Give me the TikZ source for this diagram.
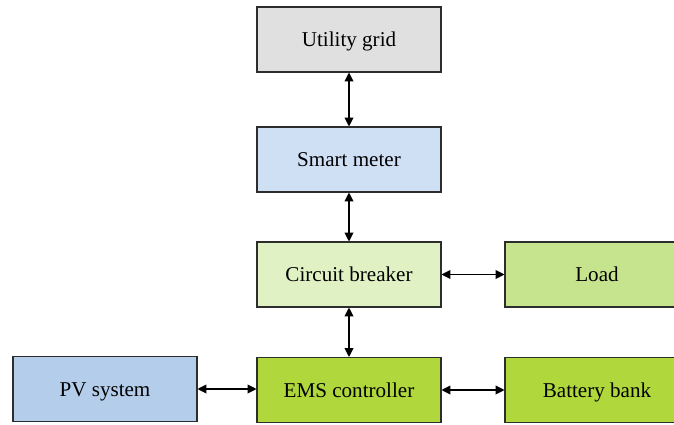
\documentclass[tikz,border=0pt]{standalone}
\usepackage{fontspec}
\setmainfont{Liberation Serif}
\usetikzlibrary{arrows.meta, positioning}
\definecolor{gridgray}{RGB}{224,224,224}
\definecolor{meterblue}{RGB}{207,224,245}
\definecolor{pvblue}{RGB}{180,205,234}
\definecolor{breakergreen}{RGB}{224,242,196}
\definecolor{loadgreen}{RGB}{198,228,142}
\definecolor{emsgreen}{RGB}{176,216,60}
\definecolor{edgegray}{RGB}{45,45,45}

\begin{document}
\begin{tikzpicture}[
    >={Triangle[length=5pt,width=5pt]},
    block/.style={draw=edgegray, line width=0.6pt, minimum width=3.68cm,
                  minimum height=1.3cm, text height=1.8ex, text depth=0pt,
                  font=\fontsize{12}{14}\selectfont},
    link/.style={<->, line width=0.6pt}
  ]
    % Page frame
    \clip (0,0) rectangle (13.48,8.48);

    % Main column
    \node[block, fill=gridgray] (grid) at (6.98,7.69) {Utility grid};
    \node[block, fill=meterblue] (meter) at (6.98,5.29) {Smart meter};
    \node[block, fill=breakergreen] (breaker) at (6.98,2.99) {Circuit breaker};
    \node[block, fill=emsgreen] (ems) at (6.98,0.68) {EMS controller};

    % Side blocks
    \node[block, fill=loadgreen] (load) at (11.94,2.99) {Load};
    \node[block, fill=emsgreen] (battery) at (11.94,0.68) {Battery bank};
    \node[block, fill=pvblue] (pv) at (2.1,0.70) {PV system};

    % Connections
    \draw[link] (grid) -- (meter);
    \draw[link] (meter) -- (breaker);
    \draw[link] (breaker) -- (ems);
    \draw[link] (breaker) -- (load);
    \draw[link] (ems) -- (battery);
    \draw[link] (pv.east) -- (pv.east -| ems.west);
\end{tikzpicture}
\end{document}
